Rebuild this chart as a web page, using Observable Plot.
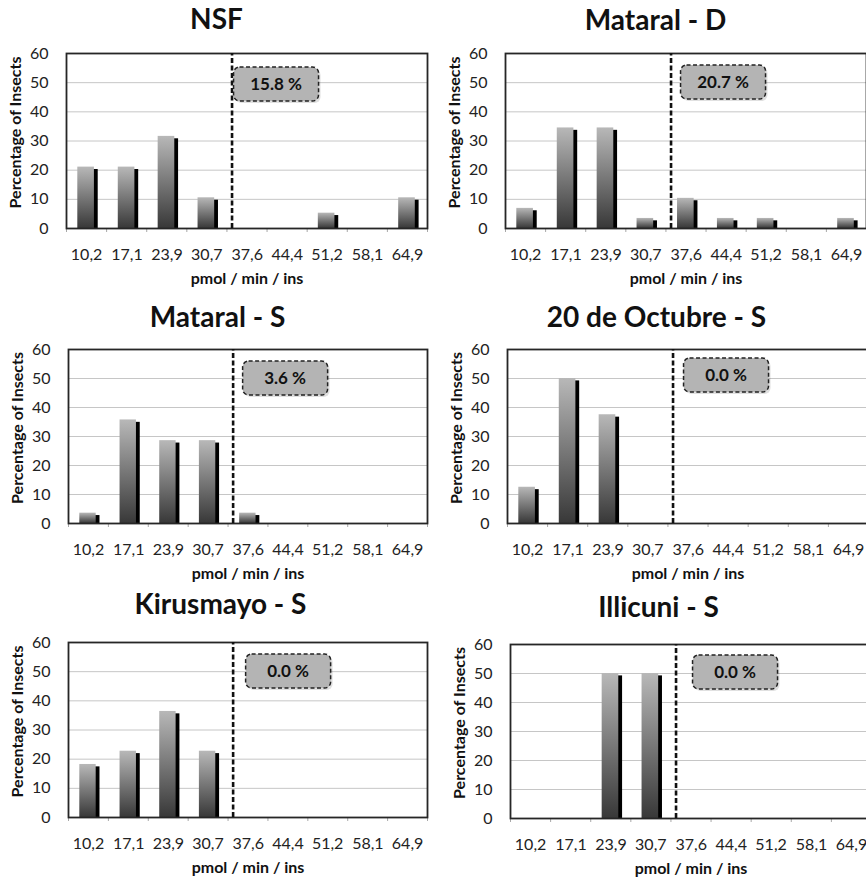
<!DOCTYPE html>
<html><head><meta charset="utf-8">
<script src="https://cdn.jsdelivr.net/npm/d3@7"></script>
<script src="https://cdn.jsdelivr.net/npm/@observablehq/plot@0.6"></script>
<style>
html,body{margin:0;padding:0;background:#fff;}
#root{position:relative;width:866px;height:881px;overflow:hidden;background:#fff;}
.panel{position:absolute;}
.panel svg{max-width:none !important;}
</style></head><body><div id="root"></div>
<script>
// ---------------- data ----------------
const tickLabels = ["10,2","17,1","23,9","30,7","37,6","44,4","51,2","58,1","64,9"];
const yTicks = [0,10,20,30,40,50,60];
const titles = ["NSF","Mataral - D","Mataral - S","20 de Octubre - S","Kirusmayo - S","Illicuni - S"];
const nsf        = [21.05,21.05,31.58,10.53,0,0,5.26,0,10.53];
const mataralD   = [6.90,34.48,34.48,3.45,10.34,3.45,3.45,0,3.45];
const mataralS   = [3.57,35.71,28.57,28.57,3.57,0,0,0,0];
const octubreS   = [12.5,50,37.5,0,0,0,0,0,0];
const kirusmayoS = [18.18,22.73,36.36,22.73,0,0,0,0,0];
const illicuniS  = [0,0,50,50,0,0,0,0,0];
const aboveThreshold = ["15.8 %","20.7 %","3.6 %","0.0 %","0.0 %","0.0 %"];
const threshold = 35;
const xTitle = "pmol / min / ins";
const yTitle = "Percentage of Insects";

const series = [nsf, mataralD, mataralS, octubreS, kirusmayoS, illicuniS];
const centers = tickLabels.map(s => +s.replace(",", "."));
const bw = (centers[centers.length-1] - centers[0]) / (centers.length - 1);
const boundaries = d3.range(centers.length + 1).map(i => centers[0] - bw/2 + i*bw);
const labelOf = new Map(centers.map((c,i) => [c, tickLabels[i]]));

// ---------------- layout ----------------
const layout = [
  {left:0,   top:0,   w:433, h:290, ml:66, mr:6, mt:53, y0:228, tx:216, ty:20, bx:2,  by:14},
  {left:433, top:0,   w:440, h:290, ml:72, mr:7, mt:53, y0:228, tx:222, ty:21, bx:10, by:12},
  {left:0,   top:290, w:433, h:290, ml:68, mr:6, mt:59, y0:233, tx:217, ty:28, bx:10, by:12},
  {left:433, top:290, w:440, h:290, ml:74, mr:5, mt:59, y0:233, tx:223, ty:28, bx:11, by:9},
  {left:0,   top:580, w:433, h:301, ml:68, mr:6, mt:62, y0:237, tx:220, ty:25, bx:13, by:12},
  {left:433, top:580, w:445, h:301, ml:77, mr:7, mt:64, y0:238, tx:225, ty:28, bx:17, by:11}
];
const FONT = "Lato, 'Open Sans', sans-serif";
const root = document.getElementById("root");

layout.forEach((L, k) => {
  const data = centers.map((c, i) => ({c, v: series[k][i]})).filter(d => d.v > 0);
  const gid = "grad" + k;
  const defs = () => {
    const d = d3.create("svg:defs");
    const lg = d.append("linearGradient").attr("id", gid)
      .attr("x1", 0).attr("y1", 0).attr("x2", 0).attr("y2", 1);
    lg.append("stop").attr("offset", "0%").attr("stop-color", "#b8b8b8");
    lg.append("stop").attr("offset", "100%").attr("stop-color", "#383838");
    return d.node();
  };
  const box = (index, scales, values, dims) => {
    const x0 = scales.x(threshold) + L.bx;
    const y0 = dims.marginTop + L.by;
    const g = d3.create("svg:g");
    g.append("rect").attr("x", x0 + 2).attr("y", y0 + 2).attr("width", 85).attr("height", 34)
      .attr("rx", 6).attr("fill", "#000").attr("opacity", 0.12);
    g.append("rect").attr("x", x0).attr("y", y0).attr("width", 85).attr("height", 34)
      .attr("rx", 6).attr("fill", "#b4b4b4").attr("stroke", "#222")
      .attr("stroke-width", 1.5).attr("stroke-dasharray", "4,2.5");
    g.append("text").attr("x", x0 + 42.5).attr("y", y0 + 17).attr("dy", "0.35em")
      .attr("text-anchor", "middle").attr("font-weight", 700).attr("font-size", 17)
      .attr("fill", "#111").attr("font-family", FONT).text(aboveThreshold[k]);
    return g.node();
  };

  const svg = Plot.plot({
    width: L.w, height: L.h,
    marginLeft: L.ml, marginRight: L.mr, marginTop: L.mt, marginBottom: L.h - L.y0,
    style: {fontFamily: FONT, color: "#222", background: "none", overflow: "visible"},
    x: {domain: [boundaries[0], boundaries[boundaries.length-1]]},
    y: {domain: [0, 60]},
    marks: [
      defs,
      Plot.gridY({ticks: yTicks.slice(1, -1), stroke: "#c6c6c6", strokeOpacity: 1, strokeWidth: 1}),
      Plot.rectY(data, {x1: d => d.c - bw/2, x2: d => d.c + bw/2, y: "v",
        insetLeft: 15, insetRight: 8.4, insetTop: 2.4, fill: "#000"}),
      Plot.rectY(data, {x1: d => d.c - bw/2, x2: d => d.c + bw/2, y: "v",
        insetLeft: 11.3, insetRight: 12.2, fill: `url(#${gid})`}),
      Plot.ruleX(boundaries, {y1: 0, y2: 0, insetBottom: -4, stroke: "#a8a8a8"}),
      Plot.frame({stroke: "#262626", strokeWidth: 1.8}),
      Plot.ruleX([threshold], {y1: 0, y2: 60, stroke: "#111", strokeWidth: 2.6, strokeDasharray: "5,2.5"}),
      box,
      Plot.axisY({ticks: yTicks, tickSize: 0, tickPadding: 18, fontSize: 16, label: null}),
      Plot.axisX({ticks: centers, tickFormat: d => labelOf.get(d), tickSize: 0, tickPadding: 20, fontSize: 16, label: null}),
      Plot.text([xTitle], {frameAnchor: "bottom", dy: 50, textAnchor: "middle", lineAnchor: "middle",
        fontWeight: 700, fontSize: 16, fill: "#111"}),
      Plot.text([yTitle], {frameAnchor: "left", dx: -51, dy: -8.5, rotate: -90, textAnchor: "middle",
        lineAnchor: "middle", fontWeight: 700, fontSize: 16, fill: "#111"}),
      Plot.text([titles[k]], {frameAnchor: "top-left", dx: L.tx - L.ml, dy: L.ty - L.mt,
        textAnchor: "middle", lineAnchor: "middle", fontWeight: 700, fontSize: 28, fill: "#111"})
    ]
  });
  svg.style.maxWidth = "none";
  svg.style.background = "none";
  const div = document.createElement("div");
  div.className = "panel";
  div.style.left = L.left + "px";
  div.style.top = L.top + "px";
  div.style.width = L.w + "px";
  div.style.height = L.h + "px";
  div.appendChild(svg);
  root.appendChild(div);
});
</script></body></html>
